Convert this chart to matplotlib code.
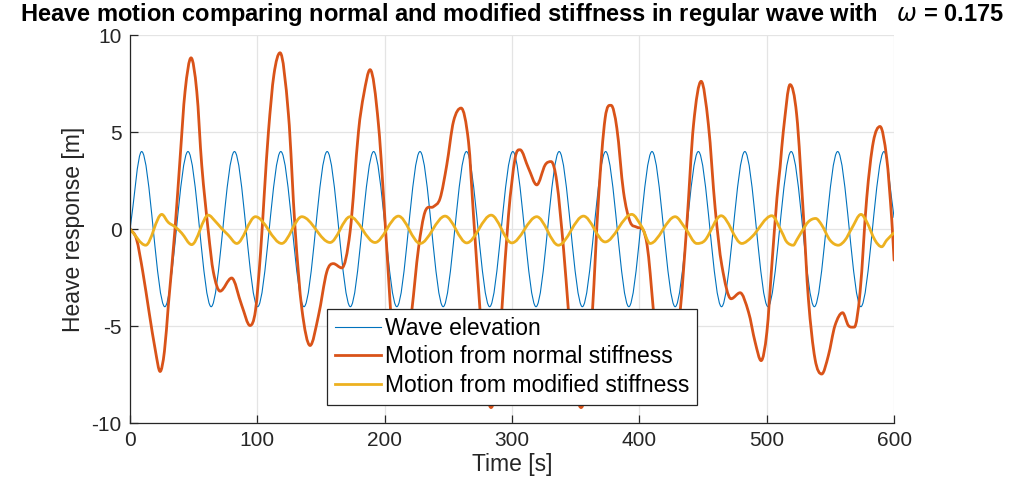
import numpy as np
import matplotlib
matplotlib.use("Agg")
import matplotlib.pyplot as plt
from matplotlib.path import Path
from matplotlib.patches import PathPatch
from matplotlib.lines import Line2D

plt.rcParams['font.family'] = ['Liberation Sans', 'DejaVu Sans']
plt.rcParams['axes.unicode_minus'] = False

# values
wave_time = [0, 9.1, 27.3, 45.5, 63.7, 82.0, 100.2, 118.4, 136.6, 154.8, 173.0,
             191.3, 209.5, 227.7, 245.9, 264.2, 282.4, 300.6, 318.8, 337.0, 355.2,
             373.5, 391.7, 409.9, 428.1, 446.3, 464.5, 482.8, 501.0, 519.2, 537.4,
             555.7, 573.9, 592.1, 600]
wave_elev = [0, 4, -4, 4, -4, 4, -4, 4, -4, 4, -4, 4, -4, 4, -4, 4, -4, 4, -4,
             4, -4, 4, -4, 4, -4, 4, -4, 4, -4, 4, -4, 4, -4, 4, 0.6]

normal_time = [0, 5, 10, 15, 20, 23.6, 27, 30.1, 35.3, 39.3, 43.2, 47.9, 52.4, 56.3,
               61.5, 65.4, 70.7, 79.8, 87.7, 94.2, 98.5, 102.5, 105.5, 108.7, 113,
               117.8, 124.4, 129.6, 134.9, 141.4, 148, 154.5, 159.7, 166.3, 172.8,
               179.4, 183.5, 188.5, 195.1, 201.6, 204.5, 207.5, 212, 217, 221.2,
               226.5, 231.7, 238.3, 243.5, 248.7, 254, 260, 265.8, 269.7, 274.9,
               279, 283.5, 288, 291.9, 297.2, 302.4, 306.3, 312.9, 319.4, 326, 330.7,
               335.1, 340.4, 344.3, 349, 354.2, 359, 363.1, 367.9, 373.1, 377.8,
               382.3, 387.5, 392.7, 398, 403, 406, 408.5, 411, 416, 421, 426.5, 432,
               437.2, 442.5, 448.5, 454.2, 459.5, 464.7, 472, 479.1, 485.7, 490.9,
               495.6, 500.1, 504, 508, 510.5, 513, 518.3, 523.5, 528.8, 532.7, 537.9,
               543.2, 548.4, 553.6, 559.6, 564.1, 568.8, 573.3, 578.5, 583.7, 589,
               594.2, 598.1, 600]
normal_heave = [0, -0.5, -2.2, -4.3, -6.3, -7.34, -6.3, -3.9, 0, 3.66, 7.1, 8.83, 7.1,
                3.3, -0.14, -2.2, -3.2, -2.52, -3.93, -4.97, -4.2, -1.2, 1.9, 5.03,
                7.97, 9.09, 5.9, 0.03, -4.1, -6.0, -4.45, -2.2, -1.78, -2.0, -0.14,
                5.03, 6.93, 8.22, 5.38, -1.0, -4.1, -7.0, -8.0, -6.3, -4.24, -1.0,
                0.9, 1.16, 1.59, 3.3, 5.55, 6.24, 4.5, 0.72, -4.24, -7.8, -9.2, -7.8,
                -4.24, 0.72, 3.66, 4.09, 3.14, 2.28, 3.31, 3.48, 2.45, -1.0, -4.24,
                -7.8, -9.2, -7.8, -4.24, 1.59, 5.72, 6.38, 5.2, 1.93, 0.38, 0.1,
                -0.05, -0.8, -2.3, -4.2, -7.3, -8.3, -7.0, -4.24, 0.2, 5.38, 7.62,
                5.38, 1.07, -1.86, -3.59, -3.28, -4.28, -5.83, -6.78, -5.31, -1.86,
                1.59, 3.2, 5.03, 7.45, 5.9, 0.72, -3.59, -6.69, -7.47, -6.52, -4.97,
                -4.31, -4.97, -5.05, -3.24, 1.59, 4.5, 5.29, 3.66, 0.55, -1.6]

modified_time = [0, 12.3, 24.9, 30, 35.3, 40.5, 48.4, 61.5, 67, 72, 77, 83.8, 98.5,
                 119.1, 134.9, 157.1, 172.8, 192.4, 210.8, 227.8, 247.4, 264.4,
                 283.6, 299.8, 319.4, 336.4, 356.1, 373.1, 394, 402, 408.4, 428.1,
                 436, 445.1, 451.6, 464.2, 480.4, 488.3, 504, 511.7, 515.7, 520.9,
                 523.5, 527.4, 532.7, 538.4, 543.2, 549.7, 556.2, 561.5, 566.7, 574,
                 578.5, 585, 590.3, 594.2, 600]
modified_heave = [0, -0.83, 0.76, 0.35, 0.12, -0.2, -0.8, 0.72, 0.4, 0.03, -0.3, -0.74,
                  0.64, -0.74, 0.64, -0.69, 0.64, -0.69, 0.67, -0.74, 0.67, -0.71,
                  0.72, -0.71, 0.64, -0.83, 0.67, -0.66, 0.76, 0.1, -0.74, 0.64, 0.05,
                  -0.74, -0.57, 0.69, -0.74, -0.4, 0.69, -0.14, -0.66, -0.83, -0.57,
                  -0.14, 0.38, 0.55, 0.21, -0.57, -0.83, -0.57, 0.03, 0.76, 0.38,
                  -0.57, -0.91, -0.57, -0.19]

labels = ['Wave elevation', 'Motion from normal stiffness',
          'Motion from modified stiffness']
colors = ['#0072BD', '#D95319', '#EDB120']
widths = [0.8, 2.0, 2.0]


def smooth_path(x, y):
    # cubic through the read points (flat at turning points), drawn as bezier segments
    x = np.asarray(x, float)
    y = np.asarray(y, float)
    h = np.diff(x)
    d = np.diff(y) / h
    m = np.zeros_like(y)
    m[0], m[-1] = d[0], d[-1]
    for i in range(1, len(y) - 1):
        if d[i - 1] * d[i] > 0:
            m[i] = (y[i + 1] - y[i - 1]) / (x[i + 1] - x[i - 1])
    verts = [(x[0], y[0])]
    codes = [Path.MOVETO]
    for i in range(len(x) - 1):
        verts += [(x[i] + h[i] / 3, y[i] + m[i] * h[i] / 3),
                  (x[i + 1] - h[i] / 3, y[i + 1] - m[i + 1] * h[i] / 3),
                  (x[i + 1], y[i + 1])]
        codes += [Path.CURVE4] * 3
    return Path(verts, codes)


fig = plt.figure(figsize=(10.16, 4.88), dpi=100)
ax = fig.add_axes([0.128, 0.133, 0.752, 0.795])

series = [(wave_time, wave_elev), (normal_time, normal_heave),
          (modified_time, modified_heave)]
for (t, v), c, w in zip(series, colors, widths):
    ax.add_patch(PathPatch(smooth_path(t, v), facecolor='none', edgecolor=c,
                           lw=w, joinstyle='round', capstyle='round'))

ax.set_xlim(0, 600)
ax.set_ylim(-10, 10)
ax.set_xticks([0, 100, 200, 300, 400, 500, 600])
ax.set_yticks([-10, -5, 0, 5, 10])
ax.grid(True, color='#e4e4e4', lw=0.9)
ax.set_axisbelow(True)
for s in ['top', 'right']:
    ax.spines[s].set_visible(False)
for s in ['left', 'bottom']:
    ax.spines[s].set_color('#262626')
    ax.spines[s].set_linewidth(0.9)
ax.tick_params(direction='in', length=5.5, width=0.9, color='#262626',
               labelcolor='#262626', labelsize=15, pad=6)

ax.set_xlabel('Time [s]', fontsize=16.5, color='#262626', labelpad=2)
ax.set_ylabel('Heave response [m]', fontsize=16.5, color='#262626', labelpad=5)
ax.set_title('Heave motion comparing normal and modified stiffness in regular wave with'
             r'   $\omega$ = 0.175',
             fontsize=17, fontweight='bold',
             family=['Liberation Sans Narrow', 'Liberation Sans', 'DejaVu Sans'],
             pad=10)

handles = [Line2D([], [], color=c, lw=w) for c, w in zip(colors, widths)]
leg = ax.legend(handles, labels, loc='lower center', bbox_to_anchor=(0.5, 0.046),
                fontsize=16.5, frameon=True, fancybox=False, framealpha=1,
                edgecolor='#262626', borderpad=0.35, labelspacing=0.25,
                handlelength=2.0, handletextpad=0.2, borderaxespad=0)
leg.get_frame().set_linewidth(0.9)

fig.savefig('out.png', dpi=100)
